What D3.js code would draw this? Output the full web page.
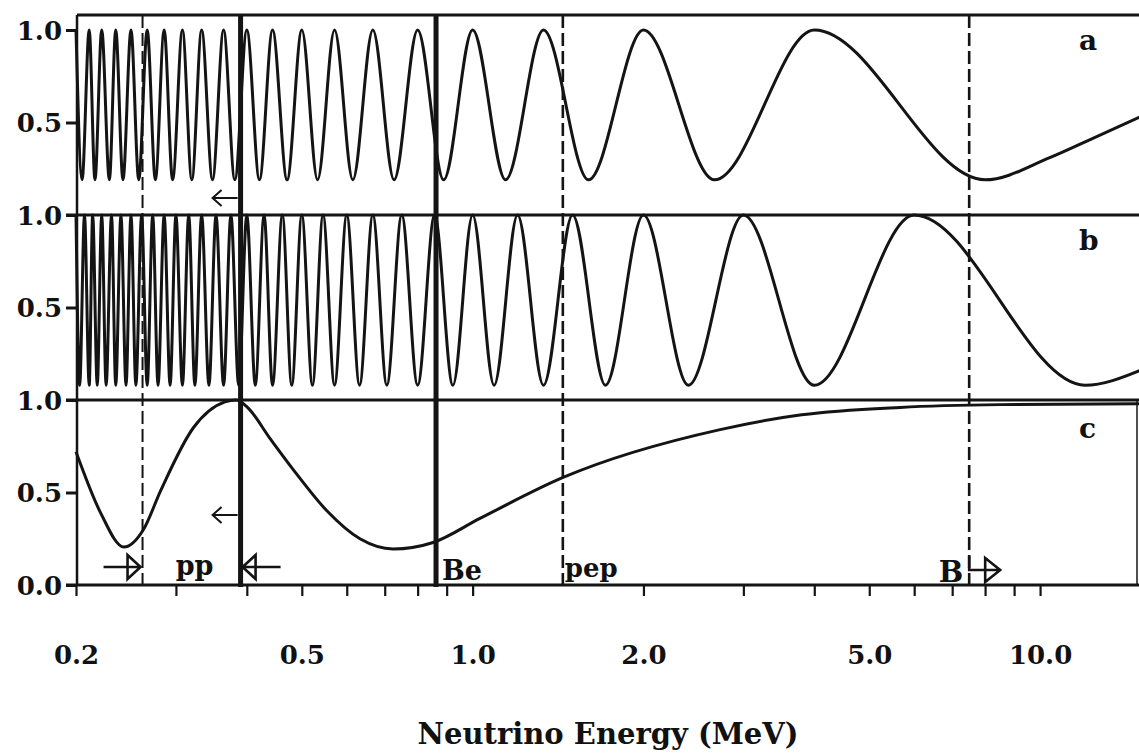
<!DOCTYPE html>
<html>
<head>
<meta charset="utf-8">
<script src="https://cdn.jsdelivr.net/npm/d3@7"></script>
<style>
  html, body { margin: 0; padding: 0; background: #fff; }
  svg { display: block; }
  text { font-family: "DejaVu Serif", "Liberation Serif", serif; font-weight: bold; fill: #111; }
</style>
</head>
<body>
<svg id="chart" width="1139" height="755"></svg>
<script>
// ---- Data: survival probability vs neutrino energy (MeV) ----

// Panel a: energies of maxima and minima of the oscillation
const panelAPeaks = [0.200, 0.211, 0.222, 0.235, 0.250, 0.267, 0.286, 0.308, 0.333, 0.364,
                     0.400, 0.444, 0.500, 0.571, 0.667, 0.800, 1.000, 1.333, 2.00, 4.00];
const panelATroughs = [0.205, 0.216, 0.229, 0.242, 0.258, 0.276, 0.296, 0.320, 0.348, 0.381,
                       0.421, 0.471, 0.533, 0.615, 0.727, 0.889, 1.143, 1.600, 2.667, 8.00];
const panelAMax = 1.0;
const panelAMin = 0.19;
const panelATail = [[10.4, 0.31], [12.5, 0.42], [15.0, 0.53]];

// Panel b: energies of maxima and minima of the oscillation
const panelBPeaks = [0.200, 0.207, 0.214, 0.222, 0.231, 0.240, 0.250, 0.261, 0.273, 0.286,
                     0.300, 0.316, 0.333, 0.353, 0.375, 0.400, 0.429, 0.462, 0.500, 0.545,
                     0.600, 0.667, 0.750, 0.857, 1.000, 1.200, 1.500, 2.00, 3.00, 6.00];
const panelBTroughs = [0.203, 0.211, 0.218, 0.226, 0.235, 0.245, 0.255, 0.267, 0.279, 0.293,
                       0.308, 0.324, 0.343, 0.364, 0.387, 0.414, 0.444, 0.480, 0.522, 0.571,
                       0.632, 0.706, 0.800, 0.923, 1.091, 1.333, 1.714, 2.40, 4.00, 12.0];
const panelBMax = 1.0;
const panelBMin = 0.08;
const panelBTail = [[15.0, 0.16]];

// Panel c: probability
const panelCEnergy = [0.200, 0.221, 0.243, 0.263, 0.282, 0.322, 0.366, 0.383, 0.401, 0.440,
                      0.484, 0.554, 0.633, 0.724, 0.852, 1.03, 1.44, 2.73, 3.8, 5.67, 8.5, 15.0];
const panelCProb   = [0.72, 0.39, 0.205, 0.30, 0.51, 0.85, 0.99, 1.0, 0.96, 0.79,
                      0.62, 0.40, 0.25, 0.195, 0.23, 0.36, 0.58, 0.84, 0.92, 0.96, 0.975, 0.98];

// Source thresholds / line energies (MeV)
const solidMarkers = [0.39, 0.862];
const dashedMarkers = [0.262, 1.442, 7.5];

// Axis ticks
const xTicks = [0.2, 0.3, 0.4, 0.5, 0.6, 0.7, 0.8, 0.9, 1.0, 2, 3, 4, 5, 6, 7, 8, 9, 10];
const xTickLabels = { 0.2: "0.2", 0.5: "0.5", 1: "1.0", 2: "2.0", 5: "5.0", 10: "10.0" };
const panelNames = ["a", "b", "c"];
const xTitle = "Neutrino Energy (MeV)";

// ---- Layout ----
const svg = d3.select("#chart");
const plotLeft = 77, plotRight = 1139, plotTop = 15;
const ink = "#141414";

const x = d3.scaleLog().domain([0.2, 15]).range([plotLeft - 1, 1140]);

// Three stacked panels sharing the x axis
const panelBottoms = [215, 400, 585];
const panelH = 185;
const yScales = panelBottoms.map(b => d3.scaleLinear().domain([0, 1]).range([b, b - panelH]));

function extremaSeries(peaks, troughs, hi, lo, tail) {
  const pts = peaks.map(e => [e, hi]).concat(troughs.map(e => [e, lo])).concat(tail);
  return pts.sort((p, q) => p[0] - q[0]);
}
const seriesA = extremaSeries(panelAPeaks, panelATroughs, panelAMax, panelAMin, panelATail);
const seriesB = extremaSeries(panelBPeaks, panelBTroughs, panelBMax, panelBMin, panelBTail);
const seriesC = panelCEnergy.map((e, i) => [e, panelCProb[i]]);
const allSeries = [seriesA, seriesB, seriesC];

// ---- Frame lines ----
const frame = svg.append("g").attr("stroke", ink).attr("fill", "none");
frame.append("line").attr("x1", plotLeft).attr("x2", plotRight).attr("y1", plotTop).attr("y2", plotTop).attr("stroke-width", 3);
panelBottoms.forEach(b => {
  frame.append("line").attr("x1", plotLeft - 11).attr("x2", plotRight).attr("y1", b).attr("y2", b).attr("stroke-width", 3);
});
frame.append("line").attr("x1", plotLeft).attr("x2", plotLeft).attr("y1", plotTop).attr("y2", 585).attr("stroke-width", 2.5);
frame.append("line").attr("x1", 1137).attr("x2", 1137).attr("y1", 400).attr("y2", 585).attr("stroke-width", 1.5);

// ---- Curves ----
const curveG = svg.append("g");
allSeries.forEach((s, i) => {
  const line = d3.line()
    .x(d => x(d[0]))
    .y(d => yScales[i](d[1]))
    .curve(d3.curveMonotoneX);
  curveG.append("path")
    .datum(s)
    .attr("d", line)
    .attr("fill", "none")
    .attr("stroke", ink)
    .attr("stroke-width", 3)
    .attr("stroke-linejoin", "round");
});

// ---- Marker lines ----
const markG = svg.append("g").attr("stroke", ink);
markG.selectAll("line.solid").data(solidMarkers).join("line")
  .attr("class", "solid")
  .attr("x1", d => x(d)).attr("x2", d => x(d))
  .attr("y1", plotTop).attr("y2", 587)
  .attr("stroke-width", 5);
markG.selectAll("line.dashed").data(dashedMarkers).join("line")
  .attr("class", "dashed")
  .attr("x1", d => x(d)).attr("x2", d => x(d))
  .attr("y1", plotTop).attr("y2", 587)
  .attr("stroke-width", (d, i) => i === 0 ? 2 : 2.6)
  .attr("stroke-dasharray", "13,5");

// ---- Y axes for each panel ----
yScales.forEach((y, i) => {
  const ticks = i === 2 ? [0, 0.5, 1.0] : [0.5, 1.0];
  const ax = svg.append("g")
    .attr("transform", `translate(${plotLeft},0)`)
    .call(d3.axisLeft(y).tickValues(ticks).tickSize(11).tickPadding(4).tickFormat(d3.format(".1f")));
  ax.select(".domain").remove();
  ax.selectAll("line").attr("stroke", ink).attr("stroke-width", 3);
  ax.selectAll("text")
    .attr("font-size", 26)
    .attr("font-family", "DejaVu Serif, serif")
    .attr("font-weight", "bold")
    .attr("fill", ink)
    .attr("dy", "0.36em");
});

// ---- X axis ----
const xAxis = svg.append("g")
  .attr("transform", "translate(0,585)")
  .call(d3.axisBottom(x).tickValues(xTicks).tickSize(11).tickPadding(50)
    .tickFormat(d => xTickLabels[d] || ""));
xAxis.select(".domain").remove();
xAxis.selectAll("line").attr("stroke", ink).attr("stroke-width", 2.2);
xAxis.selectAll("text")
  .attr("font-size", 26)
  .attr("font-family", "DejaVu Serif, serif")
  .attr("font-weight", "bold")
  .attr("fill", ink);

svg.append("text")
  .attr("x", 608).attr("y", 744)
  .attr("text-anchor", "middle")
  .attr("font-size", 29)
  .text(xTitle);

// ---- Panel letters ----
const letterBaselines = [50, 250, 438];
panelNames.forEach((n, i) => {
  svg.append("text").attr("x", 1079).attr("y", letterBaselines[i]).attr("font-size", 28).text(n);
});

// ---- Source annotations ----
const ann = svg.append("g");
const xpp0 = x(dashedMarkers[0]), xpp1 = x(solidMarkers[0]);
const xBe = x(solidMarkers[1]), xpep = x(dashedMarkers[1]), xB = x(dashedMarkers[2]);

ann.append("text").attr("x", (xpp0 + xpp1) / 2 + 3).attr("y", 575).attr("text-anchor", "middle").attr("font-size", 27).text("pp");
ann.append("text").attr("x", xBe + 6).attr("y", 580).attr("font-size", 27).text("Be");
ann.append("text").attr("x", xpep + 2).attr("y", 577).attr("font-size", 26).text("pep");
ann.append("text").attr("x", xB - 6).attr("y", 582).attr("text-anchor", "end").attr("font-size", 29).text("B");

const arrows = ann.append("g").attr("stroke", ink).attr("fill", "none").attr("stroke-linejoin", "miter");
// bracket arrows marking the pp range
const ay = 567;
arrows.append("path").attr("stroke-width", 2.6)
  .attr("d", `M${xpp0 - 39},${ay}H${xpp0 - 2}M${xpp0 - 15},${ay - 12}L${xpp0 - 2},${ay}L${xpp0 - 15},${ay + 12}Z`);
arrows.append("path").attr("stroke-width", 2.6)
  .attr("d", `M${xpp1 + 40},${ay}H${xpp1 + 2}M${xpp1 + 15},${ay - 12}L${xpp1 + 2},${ay}L${xpp1 + 15},${ay + 12}Z`);
// arrow from the B threshold toward higher energy
const by = 570;
arrows.append("path").attr("stroke-width", 2.6)
  .attr("d", `M${xB},${by - 14}V${by}H${xB + 31}M${xB + 16},${by - 12}L${xB + 31},${by}L${xB + 16},${by + 12}Z`);
// small left arrows beside the pp end line
[198, 515].forEach(yy => {
  arrows.append("path").attr("stroke-width", 2)
    .attr("d", `M${xpp1 - 3},${yy}H${xpp1 - 28}M${xpp1 - 19},${yy - 8}L${xpp1 - 28},${yy}L${xpp1 - 19},${yy + 8}`);
});
</script>
</body>
</html>
